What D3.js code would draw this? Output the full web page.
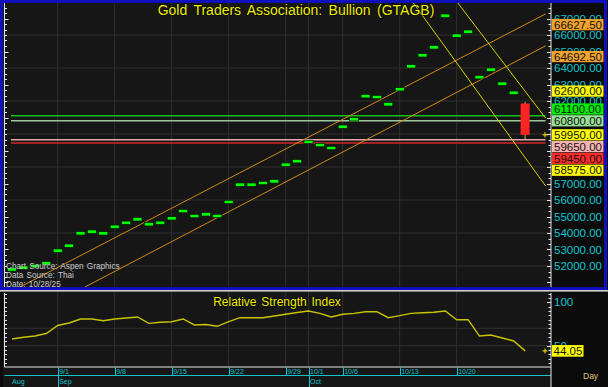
<!DOCTYPE html>
<html lang="en">
<head>
  <meta charset="utf-8" />
  <title>Gold Traders Association: Bullion (GTAGB)</title>
  <script src="https://d3js.org/d3.v7.min.js"></script>
  <style>
    body { margin: 0; background: #000; }
    svg { display: block; }
    text { font-family: Arial, "Liberation Sans", sans-serif; }
  </style>
</head>
<body>
  <svg id="chart" width="608" height="387"></svg>
  <script>
    // ---- data ----
    const dates = ["8/26","8/27","8/28","8/29",
      "9/1","9/2","9/3","9/4","9/5","9/8","9/9","9/10","9/11","9/12",
      "9/15","9/16","9/17","9/18","9/19","9/22","9/23","9/24","9/25","9/26",
      "9/29","9/30","10/1","10/2","10/3","10/6","10/7","10/8","10/9","10/10",
      "10/13","10/14","10/15","10/16","10/17","10/20","10/21","10/22","10/23","10/24",
      "10/27","10/28"];

    // daily closes (dashes), 8/26 .. 10/27
    const closes = [51790, 51900, 52000, 52160,
      52930, 53230, 53980, 54080, 53980, 54380, 54620, 54830, 54530, 54620,
      54890, 55330, 55030, 55130, 55030, 55880, 56930, 56930, 57030, 57130,
      58140, 58350, 59520, 59330, 59150, 60440, 60890, 62290, 62240, 61800,
      62710, 64100, 64770, 65250, 67170, 65960, 66200, 63440, 63900, 63050,
      62500];

    // last day as a candle: open, high, low, close
    const lastBar = [61850, 61950, 59650, 59950];

    const rsi = [57.7, 59.7, 61.1, 64.0,
      73.2, 76.1, 80.7, 80.7, 78.7, 80.7, 81.8, 83.0, 75.7, 76.9,
      77.6, 80.7, 73.8, 74.4, 72.3, 77.6, 82.2, 82.2, 82.2, 84.1,
      86.1, 88.2, 89.9, 87.2, 83.0, 86.1, 87.2, 89.1, 89.1, 82.2,
      84.5, 87.2, 87.9, 88.4, 89.9, 79.9, 79.9, 61.1, 62.3, 58.9,
      55.4, 44.05];

    // value tags on the price axis, top to bottom
    const levelValues = [66627.5, 64692.5, 62600, 61100, 60800, 59950, 59650, 59450, 58575];
    // horizontal study lines
    const hLines = [61100, 60800, 59650, 59450];
    // trend lines: [start index, start value, end index, end value]
    const channelUpper = [0.7, 50730, 46.8, 67277];
    const channelLower = [6.4, 50730, 46.8, 65343];
    const fanA = [39.1, 67940, 46.8, 60960];
    const fanB = [35.2, 67940, 46.8, 56850];

    const priceLabels = d3.range(52000, 67001, 1000);
    const priceGrid = d3.range(52000, 66001, 2000);
    const rsiLabels = [100, 50];
    const rsiGrid = [70, 50];
    const weekTicks = ["9/1","9/8","9/15","9/22","9/29","10/1","10/6","10/13","10/20"];
    const months = [["Aug","8/26"], ["Sep","9/1"], ["Oct","10/1"]];

    // ---- drawing ----
    const svg = d3.select("#chart");
    const plot = { l: 4.5, r: 551, t: 3, b: 287 };
    const rsiBox = { t: 292, b: 367 };

    const x = d3.scalePoint().domain(dates).range([12.1, 525.1]);
    const xi = d3.scaleLinear().domain([0, dates.length - 1]).range(x.range());
    const y = d3.scaleLinear().domain([52000, 64000]).range([266, 68]);
    const yr = d3.scaleLinear().domain([50, 100]).range([345.7, 302.2]);

    const cyan = "#10c4cc", grid = "#2f2f2f";

    svg.append("rect").attr("width", 608).attr("height", 387).attr("fill", "#0b0b0b");
    svg.append("rect").attr("x", 1.5).attr("y", 1.4).attr("width", 604).attr("height", 287.2)
      .attr("fill", "none").attr("stroke", "#1010c0").attr("stroke-width", 3);
    svg.append("rect").attr("x", 3).attr("y", 3).attr("width", plot.r - 3).attr("height", plot.b - 3)
      .attr("fill", "#161616");
    svg.append("rect").attr("x", 0).attr("y", 290).attr("width", 608).attr("height", 1.6).attr("fill", "#d0d0d0");
    svg.append("rect").attr("x", 3).attr("y", rsiBox.t).attr("width", plot.r - 3).attr("height", 387 - rsiBox.t)
      .attr("fill", "#161616");

    svg.append("clipPath").attr("id", "pclip").append("rect")
      .attr("x", plot.l).attr("y", plot.t).attr("width", plot.r - plot.l).attr("height", plot.b - plot.t);

    // grid
    const g = svg.append("g").attr("stroke", grid).attr("stroke-width", 1);
    g.selectAll(".hg").data(priceGrid).enter().append("line")
      .attr("x1", plot.l).attr("x2", plot.r).attr("y1", d => y(d)).attr("y2", d => y(d));
    g.selectAll(".vg").data(weekTicks).enter().append("line")
      .attr("x1", d => x(d)).attr("x2", d => x(d)).attr("y1", plot.t).attr("y2", plot.b);
    g.selectAll(".rg").data(rsiGrid).enter().append("line")
      .attr("x1", plot.l).attr("x2", plot.r).attr("y1", d => yr(d)).attr("y2", d => yr(d));
    g.selectAll(".rv").data(weekTicks).enter().append("line")
      .attr("x1", d => x(d)).attr("x2", d => x(d)).attr("y1", rsiBox.t).attr("y2", rsiBox.b);

    const pg = svg.append("g").attr("clip-path", "url(#pclip)");

    // horizontal study lines
    const hColors = ["#10c010", "#9cc89c", "#e0a8a8", "#d02828"];
    pg.selectAll(".hl").data(hLines).enter().append("line")
      .attr("x1", xi(-0.1)).attr("x2", xi(46.8))
      .attr("y1", d => y(d)).attr("y2", d => y(d))
      .attr("stroke", (d, i) => hColors[i]).attr("stroke-width", 1.5);

    // trend lines
    const trends = [[channelUpper, "#d08a18"], [channelLower, "#d08a18"], [fanA, "#d4d400"], [fanB, "#d4d400"]];
    pg.selectAll(".tl").data(trends).enter().append("line")
      .attr("x1", d => xi(d[0][0])).attr("y1", d => y(d[0][1]))
      .attr("x2", d => xi(d[0][2])).attr("y2", d => y(d[0][3]))
      .attr("stroke", d => d[1]).attr("stroke-width", 1);

    // close dashes
    pg.selectAll(".dash").data(closes).enter().append("rect")
      .attr("x", (d, i) => x(dates[i]) - 4.5).attr("y", d => y(d) - 1.7)
      .attr("width", 9).attr("height", 3.4)
      .attr("fill", "#00ff00").attr("stroke", "#001a00").attr("stroke-width", 0.7);

    // last candle
    const cx = x(dates[dates.length - 1]);
    pg.append("line").attr("x1", cx).attr("x2", cx)
      .attr("y1", y(lastBar[1])).attr("y2", y(lastBar[2]))
      .attr("stroke", "#e0a070").attr("stroke-width", 1);
    pg.append("rect").attr("x", cx - 4.5).attr("width", 9)
      .attr("y", y(lastBar[0])).attr("height", y(lastBar[3]) - y(lastBar[0]))
      .attr("fill", "#ff2424");

    // last price marker
    function plus(px, py) {
      svg.append("path").attr("d", `M${px - 2.5},${py}h5M${px},${py - 2.5}v5`)
        .attr("stroke", "#d8c800").attr("stroke-width", 1.2);
    }
    plus(545, y(lastBar[3]));

    // price axes
    const minor = d3.range(50000, 68001, 1000 / 3).filter(v => y(v) > plot.t && y(v) < plot.b);
    const ax = svg.append("g").attr("stroke", "#e8e8e8").attr("stroke-width", 1);
    ax.append("line").attr("x1", plot.l).attr("x2", plot.l).attr("y1", plot.t).attr("y2", plot.b);
    ax.append("line").attr("x1", plot.r).attr("x2", plot.r).attr("y1", plot.t).attr("y2", plot.b);
    ax.selectAll(".lt").data(minor).enter().append("line")
      .attr("x1", plot.l).attr("x2", (d, i) => plot.l + (i % 6 === 0 ? 4 : 2.5))
      .attr("y1", d => Math.round(y(d)) + 0.5).attr("y2", d => Math.round(y(d)) + 0.5);
    ax.selectAll(".rt").data(minor).enter().append("line")
      .attr("x1", plot.r).attr("x2", (d, i) => plot.r - (i % 3 === 0 ? 4 : 2.5))
      .attr("y1", d => Math.round(y(d)) + 0.5).attr("y2", d => Math.round(y(d)) + 0.5);

    // value tags, stacked around the last price
    const levelColors = ["#f0a22c", "#f0a22c", "#ffff00", "#00ee00", "#98e098", "#ffff00", "#f8b4b4", "#ff2a2a", "#ffff00"];
    const gap = 11.8;
    const anchor = levelValues.indexOf(lastBar[3]);
    const pos = levelValues.map(v => y(v));
    for (let i = anchor - 1; i >= 0; i--) pos[i] = Math.min(pos[i], pos[i + 1] - gap);
    for (let i = anchor + 1; i < pos.length; i++) pos[i] = Math.max(pos[i], pos[i - 1] + gap);

    // axis numbers that a tag covers completely are not drawn
    const shown = priceLabels.filter(v => !pos.some(p => Math.abs(p - y(v)) < 4.5));
    svg.selectAll(".pl").data(shown).enter().append("text")
      .attr("x", 554).attr("y", d => y(d) + 4.2)
      .attr("fill", cyan).attr("font-size", 11.5)
      .text(d => d3.format(".2f")(d));

    const tags = svg.selectAll(".tag").data(levelValues).enter().append("g")
      .attr("transform", (d, i) => `translate(552,${pos[i]})`);
    tags.append("rect").attr("x", 0).attr("y", -5.6).attr("width", 51.5).attr("height", 11.2)
      .attr("fill", (d, i) => levelColors[i]);
    tags.append("text").attr("x", 2).attr("y", 4.2).attr("font-size", 11.5).attr("fill", "#111")
      .text(d => d3.format(".2f")(d));

    // titles and notes
    svg.append("text").attr("x", 296).attr("y", 15).attr("text-anchor", "middle")
      .attr("font-size", 14).attr("word-spacing", 2.5).attr("fill", "#f0f000")
      .attr("stroke", "#000").attr("stroke-width", 1.2).attr("paint-order", "stroke")
      .text("Gold Traders Association: Bullion (GTAGB)");
    const notes = ["Chart Source: Aspen Graphics", "Data Source: Thai", "Date: 10/28/25"];
    svg.selectAll(".note").data(notes).enter().append("text")
      .attr("x", 6).attr("y", (d, i) => 268.5 + i * 9)
      .attr("font-size", 8.2).attr("word-spacing", 1).attr("fill", "#cccccc").text(d => d);

    // RSI panel
    const rax = svg.append("g").attr("stroke", "#e8e8e8").attr("stroke-width", 1);
    rax.append("line").attr("x1", plot.l).attr("x2", plot.l).attr("y1", rsiBox.t + 1).attr("y2", rsiBox.b);
    rax.append("line").attr("x1", plot.r).attr("x2", plot.r).attr("y1", rsiBox.t + 1).attr("y2", rsiBox.b);
    rax.append("line").attr("x1", plot.l).attr("x2", plot.r).attr("y1", rsiBox.b).attr("y2", rsiBox.b);
    const rminor = d3.range(25, 111, 5).filter(v => yr(v) > rsiBox.t + 1 && yr(v) < rsiBox.b);
    rax.selectAll(".rl").data(rminor).enter().append("line")
      .attr("x1", plot.l).attr("x2", plot.l + 2.5)
      .attr("y1", d => Math.round(yr(d)) + 0.5).attr("y2", d => Math.round(yr(d)) + 0.5);
    rax.selectAll(".rr").data(rminor).enter().append("line")
      .attr("x1", plot.r).attr("x2", d => plot.r - (d % 50 === 0 ? 4 : 2.5))
      .attr("y1", d => Math.round(yr(d)) + 0.5).attr("y2", d => Math.round(yr(d)) + 0.5);

    svg.append("path")
      .attr("d", d3.line().x((d, i) => x(dates[i])).y(d => yr(d))(rsi))
      .attr("fill", "none").attr("stroke", "#c8c400").attr("stroke-width", 1.4);

    svg.append("text").attr("x", 277).attr("y", 305.5).attr("text-anchor", "middle")
      .attr("font-size", 12).attr("word-spacing", 1.5).attr("fill", "#f0f000")
      .attr("stroke", "#000").attr("stroke-width", 1).attr("paint-order", "stroke")
      .text("Relative Strength Index");

    svg.selectAll(".rlab").data(rsiLabels).enter().append("text")
      .attr("x", 554).attr("y", d => yr(d) + 4.2)
      .attr("fill", cyan).attr("font-size", 11.5).text(d => d);
    const lastRsi = rsi[rsi.length - 1];
    plus(545, yr(lastRsi));
    const rt = svg.append("g").attr("transform", `translate(552,${yr(lastRsi)})`);
    rt.append("rect").attr("y", -5.8).attr("width", 31.5).attr("height", 11.6).attr("fill", "#ffff00");
    rt.append("text").attr("x", 1.5).attr("y", 4.2).attr("font-size", 11.5).attr("fill", "#111")
      .text(d3.format(".2f")(lastRsi));

    // date axis
    const dax = svg.append("g").attr("stroke", cyan).attr("stroke-width", 1);
    dax.append("line").attr("x1", plot.l).attr("x2", plot.r).attr("y1", 375.5).attr("y2", 375.5);
    dax.selectAll(".wt").data(weekTicks).enter().append("line")
      .attr("x1", d => Math.round(x(d)) + 0.5).attr("x2", d => Math.round(x(d)) + 0.5)
      .attr("y1", rsiBox.b).attr("y2", 375.5);
    dax.selectAll(".mt").data(months.slice(1)).enter().append("line")
      .attr("x1", d => Math.round(x(d[1])) + 0.5).attr("x2", d => Math.round(x(d[1])) + 0.5)
      .attr("y1", rsiBox.b).attr("y2", 387);
    dax.append("line").attr("x1", plot.r).attr("x2", plot.r).attr("y1", rsiBox.b).attr("y2", 387)
      .attr("stroke", "#e8e8e8");

    svg.selectAll(".wl").data(weekTicks).enter().append("text")
      .attr("x", d => x(d) + 1.5).attr("y", 373.5)
      .attr("font-size", 7).attr("fill", cyan).text(d => d);
    svg.selectAll(".ml").data(months).enter().append("text")
      .attr("x", (d, i) => x(d[1]) + (i === 0 ? 0 : 1.5)).attr("y", 384)
      .attr("font-size", 7).attr("fill", cyan).text(d => d[0]);
    svg.append("text").attr("x", 583).attr("y", 379).attr("font-size", 8.5)
      .attr("fill", "#d8c878").text("Day");
  </script>
</body>
</html>
